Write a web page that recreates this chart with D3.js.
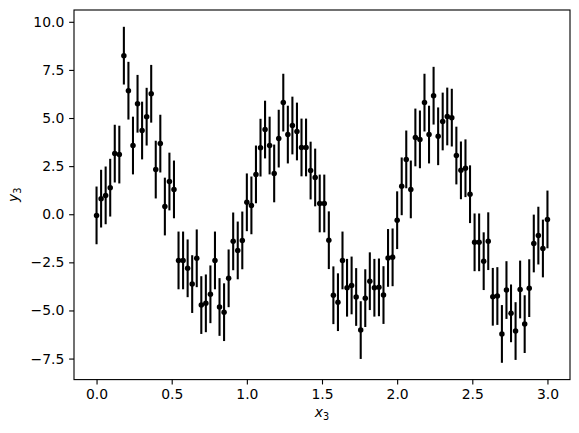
<!DOCTYPE html>
<html>
<head>
<meta charset="utf-8">
<script src="https://cdn.jsdelivr.net/npm/d3@7"></script>
<style>
  html, body { margin: 0; padding: 0; background: #fff; }
  svg { display: block; }
  text { font-family: "DejaVu Sans", sans-serif; fill: #000; }
</style>
</head>
<body>
<svg id="chart" width="579" height="433"></svg>
<script>
// ---- data ----
const xStart = 0, xEnd = 3, nPoints = 100; // sample positions: evenly spaced x from 0 to 3
const yValues = [
  -0.06, 0.81, 0.98, 1.38, 3.15, 3.10, 8.24, 6.42, 3.57, 5.74,
  4.35, 5.07, 6.26, 2.32, 3.67, 0.40, 1.70, 1.29, -2.40, -2.40,
  -2.81, -3.63, -2.29, -4.72, -4.63, -4.16, -2.40, -4.82, -5.09, -3.33,
  -1.41, -1.88, -1.36, 0.62, 0.46, 2.07, 3.46, 4.40, 3.57, 2.12,
  3.93, 5.80, 4.14, 4.61, 4.30, 3.47, 3.47, 2.27, 1.91, 0.56,
  0.56, -1.35, -4.21, -4.57, -2.40, -3.82, -3.70, -4.30, -6.02, -4.36,
  -3.48, -3.82, -3.80, -4.20, -2.27, -2.24, -0.31, 1.45, 2.85, 1.29,
  3.99, 3.89, 5.80, 4.14, 6.16, 4.05, 4.82, 5.08, 5.02, 3.05,
  2.28, 2.39, 1.04, -1.46, -1.46, -2.44, -1.40, -4.29, -4.25, -6.22,
  -3.94, -5.15, -6.07, -3.91, -5.71, -3.84, -1.52, -1.11, -1.78, -0.27
];
const yErr = 1.5;
const xTicks = [0.0, 0.5, 1.0, 1.5, 2.0, 2.5, 3.0];
const yTicks = [-7.5, -5.0, -2.5, 0.0, 2.5, 5.0, 7.5, 10.0];

const xValues = d3.range(nPoints).map(i => xStart + (xEnd - xStart) * i / (nPoints - 1));
const points = xValues.map((xv, i) => ({ x: xv, y: yValues[i] }));

// ---- layout ----
const pLeft = 74, pRight = 570, pTop = 10, pBottom = 379.6;
const svg = d3.select("#chart");

const xMin = d3.min(xValues), xMax = d3.max(xValues);
const xPad = (xMax - xMin) * 0.05;
const yLo = d3.min(points, d => d.y - yErr), yHi = d3.max(points, d => d.y + yErr);
const yPad = (yHi - yLo) * 0.05;

const xScale = d3.scaleLinear().domain([xMin - xPad, xMax + xPad]).range([pLeft, pRight]);
const yScale = d3.scaleLinear().domain([yLo - yPad, yHi + yPad]).range([pBottom, pTop]);

const fmt = v => d3.format(".1f")(v).replace("-", "\u2212");

// error bars
svg.append("g").selectAll("line").data(points).join("line")
  .attr("x1", d => xScale(d.x)).attr("x2", d => xScale(d.x))
  .attr("y1", d => yScale(d.y - yErr)).attr("y2", d => yScale(d.y + yErr))
  .attr("stroke", "#000").attr("stroke-width", 2.08);

// markers
svg.append("g").selectAll("circle").data(points).join("circle")
  .attr("cx", d => xScale(d.x)).attr("cy", d => yScale(d.y))
  .attr("r", 2.75).attr("fill", "#000");

// axes
const xAxis = d3.axisBottom(xScale).tickValues(xTicks).tickFormat(fmt).tickSize(4.86).tickPadding(4.86).tickSizeOuter(0);
const yAxis = d3.axisLeft(yScale).tickValues(yTicks).tickFormat(fmt).tickSize(4.86).tickPadding(4.86).tickSizeOuter(0);

const gx = svg.append("g").attr("transform", `translate(0,${pBottom})`).call(xAxis);
const gy = svg.append("g").attr("transform", `translate(${pLeft},0)`).call(yAxis);
[gx, gy].forEach(g => {
  g.select(".domain").remove();
  g.selectAll(".tick line").attr("stroke", "#000").attr("stroke-width", 1.11);
  g.selectAll(".tick text").attr("font-family", "DejaVu Sans").attr("font-size", 13.9).attr("fill", "#000");
});

// frame
svg.append("rect")
  .attr("x", pLeft).attr("y", pTop).attr("width", pRight - pLeft).attr("height", pBottom - pTop)
  .attr("fill", "none").attr("stroke", "#000").attr("stroke-width", 1.11);

// axis labels (math style: italic letter, subscript digit)
const xl = svg.append("text").attr("x", (pLeft + pRight) / 2).attr("y", 417)
  .attr("text-anchor", "middle").attr("font-size", 13.9);
xl.append("tspan").attr("font-style", "italic").text("x");
xl.append("tspan").attr("font-size", 9.7).attr("dy", 2.6).text("3");

const yl = svg.append("text")
  .attr("transform", `translate(18,${(pTop + pBottom) / 2}) rotate(-90)`)
  .attr("text-anchor", "middle").attr("font-size", 13.9);
yl.append("tspan").attr("font-style", "italic").text("y");
yl.append("tspan").attr("font-size", 9.7).attr("dy", 2.6).text("3");
</script>
</body>
</html>
